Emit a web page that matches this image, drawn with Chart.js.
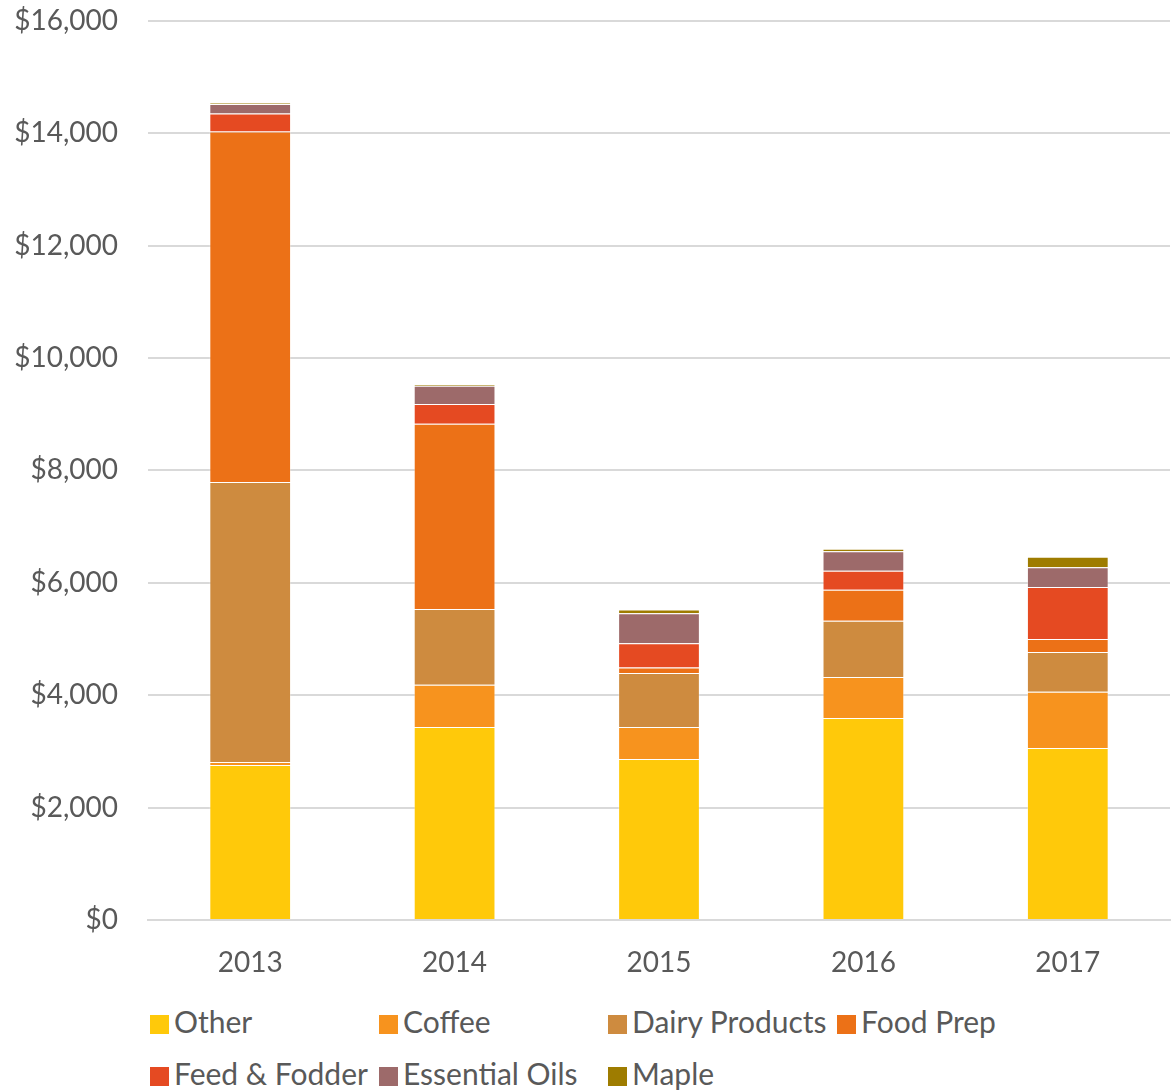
<!DOCTYPE html>
<html>
<head>
<meta charset="utf-8">
<script src="https://cdn.jsdelivr.net/npm/chart.js@4/dist/chart.umd.min.js"></script>
<style>
  body { margin: 0; background: #fff; }
  #wrap { position: relative; width: 1175px; height: 1091px; overflow: hidden; }
  #c { position: absolute; left: 0; top: 0; }
  #legend { position: absolute; left: 150px; top: 1000px; width: 1000px;
            font-family: Lato, "Open Sans", sans-serif; font-size: 30px; color: #595959; }
  .item { position: absolute; white-space: nowrap; line-height: 42px; }
  .box { display: inline-block; width: 19px; height: 19px; margin-right: 5px; vertical-align: -1px; }
</style>
</head>
<body>
<div id="wrap">
  <canvas id="c" width="1175" height="1016"></canvas>
  <div id="legend"></div>
</div>
<script>
const years = ['2013', '2014', '2015', '2016', '2017'];
const other      = [2760, 3435, 2865, 3595, 3060];
const coffee     = [50, 750, 570, 730, 1000];
const dairy      = [4985, 1350, 960, 1000, 710];
const foodPrep   = [6235, 3295, 100, 550, 230];
const feed       = [320, 350, 430, 340, 925];
const essOils    = [170, 325, 535, 345, 350];
const maple      = [20, 25, 65, 45, 190];
const yTicks = [0, 2000, 4000, 6000, 8000, 10000, 12000, 14000, 16000];

const series = [
    { label: 'Other', data: other, color: '#FFC90A' },
    { label: 'Coffee', data: coffee, color: '#F7931E' },
    { label: 'Dairy Products', data: dairy, color: '#CE8B3F' },
    { label: 'Food Prep', data: foodPrep, color: '#EC7117' },
    { label: 'Feed & Fodder', data: feed, color: '#E54A22' },
    { label: 'Essential Oils', data: essOils, color: '#9D6A6A' },
    { label: 'Maple', data: maple, color: '#9E7C00' }
];

const font = "Lato, 'Open Sans', sans-serif";

const ctx = document.getElementById('c').getContext('2d');
const chart = new Chart(ctx, {
    type: 'bar',
    data: {
        labels: years,
        datasets: series.map(s => ({
            label: s.label,
            data: s.data,
            backgroundColor: s.color,
            borderColor: 'rgba(255,255,255,0.3)',
            borderWidth: 1,
            barPercentage: 0.4,
            categoryPercentage: 1
        }))
    },
    options: {
        responsive: false,
        animation: false,
        layout: { padding: { top: 0, right: 5, left: 0, bottom: 0 } },
        plugins: {
            legend: { display: false },
            tooltip: { enabled: false }
        },
        scales: {
            x: {
                stacked: true,
                grid: { display: false, drawTicks: false },
                border: { color: '#d9d9d9', width: 2 },
                ticks: { color: '#595959', font: { family: font, size: 28 }, padding: 26 },
                afterFit: a => { a.height = 70; }
            },
            y: {
                stacked: true,
                min: 0,
                max: 16000,
                afterBuildTicks: a => { a.ticks = yTicks.map(v => ({ value: v })); },
                grid: { color: '#d9d9d9', lineWidth: 2, drawTicks: false },
                border: { display: false },
                ticks: {
                    color: '#595959',
                    font: { family: font, size: 28 },
                    padding: 30,
                    callback: v => '$' + v.toLocaleString('en-US')
                },
                afterFit: a => { a.width = 148; }
            }
        }
    }
});

// keep the plot area where the original has it (top 21, bottom 920)
const area = chart.chartArea;
const canvas = document.getElementById('c');
canvas.style.top = (21 - area.top) + 'px';

// legend in fixed columns, like the original
const legend = document.getElementById('legend');
series.forEach((s, i) => {
    const el = document.createElement('div');
    el.className = 'item';
    el.style.left = (i % 4) * 229 + 'px';
    el.style.top = Math.floor(i / 4) * 52 + 'px';
    el.innerHTML = '<span class="box" style="background:' + s.color + '"></span>' + s.label.replace('&', '&amp;');
    legend.appendChild(el);
});
</script>
</body>
</html>
